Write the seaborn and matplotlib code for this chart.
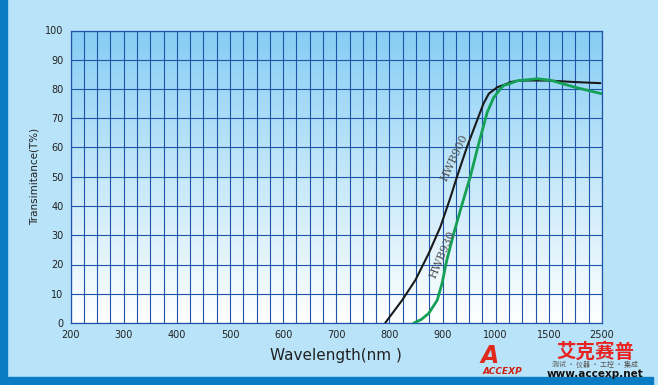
import numpy as np
import pandas as pd
import matplotlib
matplotlib.use("Agg")
import matplotlib.pyplot as plt
import seaborn as sns

# tick labels of the broken wavelength axis (equal spacing per cell)
tick_labels = ["200", "300", "400", "500", "600", "700", "800", "900", "1000", "1500", "2500"]

# HWB900 (black)
wl_900 = [792, 824, 849, 874, 896, 915, 927, 946, 965, 977, 987, 1015, 1107, 1140, 1233, 1485, 1970, 2470]
t_900 = [0, 7.8, 14.7, 23.8, 32.9, 43.0, 49.9, 60.2, 69.3, 75.0, 78.4, 80.6, 81.8, 82.4, 82.9, 82.9, 82.4, 82.0]

# HWB930 (green)
wl_930 = [846, 860, 874, 890, 899, 908, 921, 935, 952, 968, 984, 996, 1045, 1075, 1140, 1200, 1390, 1530, 1970, 2490]
t_930 = [0, 1.2, 3.3, 7.8, 13.5, 21.5, 30.6, 39.5, 49.9, 61.3, 72.0, 77.0, 80.1, 81.2, 81.9, 82.8, 83.5, 83.0, 80.7, 78.4]


def to_pos(wl):
    # 200-1000 nm: 100 nm per cell, 1000-1500: 500 nm per cell, 1500-2500: 1000 nm per cell
    wl = np.asarray(wl, dtype=float)
    return np.where(wl <= 1000, (wl - 200) / 100,
                    np.where(wl <= 1500, 8 + (wl - 1000) / 500, 9 + (wl - 1500) / 1000))


sns.set_style("white")
plt.rcParams["font.family"] = ["DejaVu Sans"]

fig = plt.figure(figsize=(6.58, 3.85), dpi=100)
fig.patch.set_facecolor("#b9e3f9")

# dark blue frame strips
fig.add_artist(plt.Rectangle((0, 0), 7 / 658, 1, transform=fig.transFigure,
                             color="#0a7cc4", zorder=0))
fig.add_artist(plt.Rectangle((0, 0), 653 / 658, 8 / 385, transform=fig.transFigure,
                             color="#0a7cc4", zorder=0))

ax = fig.add_axes([70.5 / 658, 1 - 323 / 385, 531.5 / 658, 292.5 / 385])
n_cells = len(tick_labels) - 1
ax.set_xlim(0, n_cells)
ax.set_ylim(0, 100)

# gradient background of the plot area
grad = np.linspace(0, 1, 256).reshape(-1, 1)
cmap = matplotlib.colors.LinearSegmentedColormap.from_list("bg", ["#ffffff", "#c5e8fa", "#86cdf4"])
ax.imshow(grad, extent=[0, n_cells, 0, 100], origin="lower", aspect="auto",
          cmap=cmap, zorder=0)

grid_col = "#1f55a8"
ax.set_xticks(np.arange(0, n_cells + 0.01, 0.25), minor=True)
ax.set_xticks(range(n_cells + 1))
ax.set_xticklabels(tick_labels)
ax.set_yticks(range(0, 101, 10))
ax.grid(True, which="both", axis="x", color=grid_col, lw=0.8, zorder=1)
ax.grid(True, which="major", axis="y", color=grid_col, lw=0.8, zorder=1)
ax.set_axisbelow(False)
ax.tick_params(which="both", length=0, labelsize=7, colors="#222222", pad=5)
for s in ax.spines.values():
    s.set_color(grid_col)
    s.set_linewidth(0.9)

df900 = pd.DataFrame({"pos": to_pos(wl_900), "T": t_900})
df930 = pd.DataFrame({"pos": to_pos(wl_930), "T": t_930})
sns.lineplot(data=df900, x="pos", y="T", sort=False, color="#1a1a1a", lw=1.5, ax=ax, zorder=3)
sns.lineplot(data=df930, x="pos", y="T", sort=False, color="#14a055", lw=2.0, ax=ax, zorder=3)

ax.text(float(to_pos(922)), 56.5, "HWB900", rotation=65, ha="center", va="center",
        fontsize=8, family="DejaVu Serif", color="#505050", zorder=4)
ax.text(float(to_pos(900)), 23.5, "HWB930", rotation=67, ha="center", va="center",
        fontsize=8, family="DejaVu Serif", color="#505050", zorder=4)

ax.set_xlabel("Wavelength(nm )", fontsize=11, color="#222222", labelpad=6)
ax.set_ylabel("Transimitance(T%)", fontsize=7.5, color="#222222", labelpad=4)

# logo text
fig.text(490 / 658, 1 - 356 / 385, "A", fontsize=17, weight="bold", style="italic",
         color="#e02a1c", ha="center", va="center")
fig.text(502 / 658, 1 - 372 / 385, "ACCEXP", fontsize=6.5, weight="bold", style="italic",
         color="#d01f12", ha="center", va="center")
fig.text(595 / 658, 1 - 352 / 385, "艾克赛普", family=["Noto Sans CJK SC", "DejaVu Sans"],
         fontsize=14, weight="bold", color="#e8231f", ha="center", va="center")
fig.text(595 / 658, 1 - 364.5 / 385, "测试 · 仪器 · 工控 · 集成", family=["Noto Sans CJK SC", "DejaVu Sans"],
         fontsize=5, style="italic", color="#555555", ha="center", va="center")
fig.text(595 / 658, 1 - 374 / 385, "www.accexp.net", fontsize=7.5, weight="bold",
         color="#111111", ha="center", va="center")

fig.savefig("out.png", dpi=100, facecolor=fig.get_facecolor())
